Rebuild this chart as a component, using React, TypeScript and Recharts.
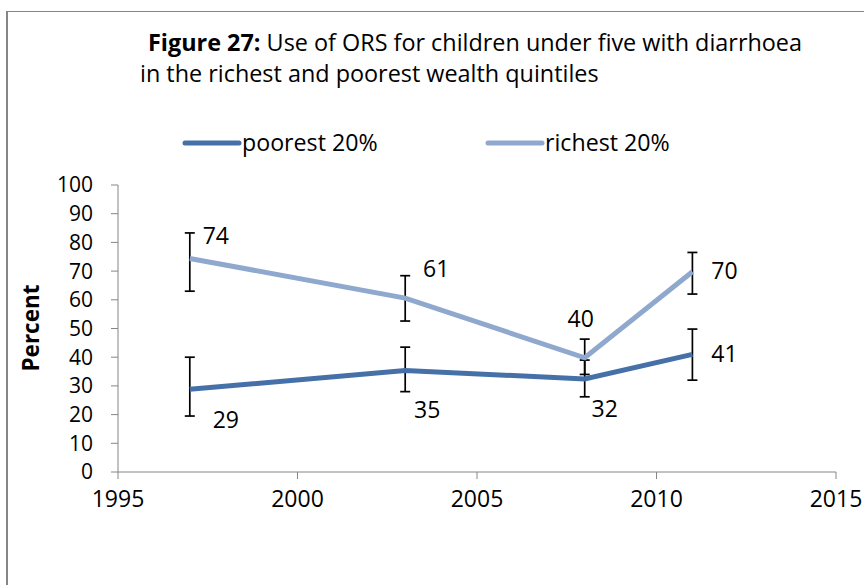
import React from "react";
import { LineChart, Line, XAxis, YAxis, ErrorBar, LabelList } from "recharts";

const years = [1997, 2003, 2008, 2011];
const poorest = [28.8, 35.4, 32.4, 41];
const richest = [74.4, 60.6, 39.8, 69.8];
const poorestLow = [19.5, 28, 26.2, 32];
const poorestHigh = [40, 43.5, 39, 49.8];
const richestLow = [63, 52.6, 34, 62];
const richestHigh = [83.3, 68.4, 46.3, 76.5];
const poorestLabels = ["29", "35", "32", "41"];
const richestLabels = ["74", "61", "40", "70"];
const seriesNames = ["poorest 20%", "richest 20%"];
const xTicks = [1995, 2000, 2005, 2010, 2015];
const yTicks = [0, 10, 20, 30, 40, 50, 60, 70, 80, 90, 100];

const data = years.map((y, i) => ({
  year: y,
  poorest: poorest[i],
  richest: richest[i],
  pErr: [poorest[i] - poorestLow[i], poorestHigh[i] - poorest[i]],
  rErr: [richest[i] - richestLow[i], richestHigh[i] - richest[i]],
}));

const FONT = "'Open Sans', 'Liberation Sans', Arial, sans-serif";
const POOR = "#4670A8";
const RICH = "#8FA8CE";
const AXIS = "#868686";

const poorOff = [
  [36, 30],
  [22, 39],
  [20, 29],
  [32, -1],
];
const richOff = [
  [26, -23],
  [31, -30],
  [-4, -40],
  [32, -2],
];

const makeLabel = (labels: string[], offs: number[][]) => (props: any) => {
  const { x, y, index } = props;
  const o = offs[index] || [0, 0];
  return (
    <text
      x={x + o[0]}
      y={y + o[1]}
      textAnchor="middle"
      dominantBaseline="central"
      fontFamily={FONT}
      fontSize={23}
      fill="#000"
    >
      {labels[index]}
    </text>
  );
};

export default function App() {
  return (
    <div style={{ position: "absolute", left: 0, top: 0, width: 864, height: 585, background: "#fff", overflow: "hidden" }}>
      <div
        style={{
          position: "absolute",
          left: 6,
          top: 11,
          width: 900,
          height: 700,
          borderLeft: `2px solid ${AXIS}`,
          borderTop: `1px solid ${AXIS}`,
        }}
      />
      <svg width={864} height={170} style={{ position: "absolute", left: 0, top: 0 }}>
        <text x={148} y={51} fontFamily={FONT} fontSize={23.4} fill="#000">
          <tspan fontWeight="bold">Figure 27:</tspan>
          <tspan> Use of ORS for children under five with diarrhoea</tspan>
        </text>
        <text x={140} y={82} fontFamily={FONT} fontSize={23.4} fill="#000">
          in the richest and poorest wealth quintiles
        </text>
        <line x1={185} x2={239} y1={143} y2={143} stroke={POOR} strokeWidth={5} strokeLinecap="round" />
        <text x={242} y={151} fontFamily={FONT} fontSize={23.2} fill="#000">
          {seriesNames[0]}
        </text>
        <line x1={488} x2={542} y1={143} y2={143} stroke={RICH} strokeWidth={5} strokeLinecap="round" />
        <text x={545} y={151} fontFamily={FONT} fontSize={23.2} fill="#000">
          {seriesNames[1]}
        </text>
      </svg>
      <svg width={80} height={585} style={{ position: "absolute", left: 0, top: 0 }}>
        <text
          x={30}
          y={328}
          transform="rotate(-90 30 328)"
          textAnchor="middle"
          dominantBaseline="central"
          fontFamily={FONT}
          fontWeight="bold"
          fontSize={22.5}
          fill="#000"
        >
          Percent
        </text>
      </svg>
      <div style={{ position: "absolute", left: 0, top: 0 }}>
        <LineChart width={864} height={585} data={data} margin={{ top: 185, right: 28, bottom: 53, left: 58 }}>
          <XAxis
            dataKey="year"
            type="number"
            domain={[1995, 2015]}
            ticks={xTicks}
            interval={0}
            stroke={AXIS}
            tickSize={7}
            tickMargin={12}
            tick={{ fill: "#000", fontSize: 23, fontFamily: FONT }}
            height={60}
          />
          <YAxis
            type="number"
            domain={[0, 100]}
            ticks={yTicks}
            interval={0}
            stroke={AXIS}
            tickSize={7}
            tickMargin={18}
            tick={{ fill: "#000", fontSize: 21, fontFamily: FONT }}
            width={60}
          />
          <Line
            dataKey="poorest"
            name={seriesNames[0]}
            stroke={POOR}
            strokeWidth={5}
            dot={false}
            activeDot={false}
            isAnimationActive={false}
          >
            <ErrorBar dataKey="pErr" direction="y" width={5} stroke="#000" strokeWidth={1.7} />
            <LabelList dataKey="poorest" content={makeLabel(poorestLabels, poorOff)} />
          </Line>
          <Line
            dataKey="richest"
            name={seriesNames[1]}
            stroke={RICH}
            strokeWidth={5}
            dot={false}
            activeDot={false}
            isAnimationActive={false}
          >
            <ErrorBar dataKey="rErr" direction="y" width={5} stroke="#000" strokeWidth={1.7} />
            <LabelList dataKey="richest" content={makeLabel(richestLabels, richOff)} />
          </Line>
        </LineChart>
      </div>
    </div>
  );
}
